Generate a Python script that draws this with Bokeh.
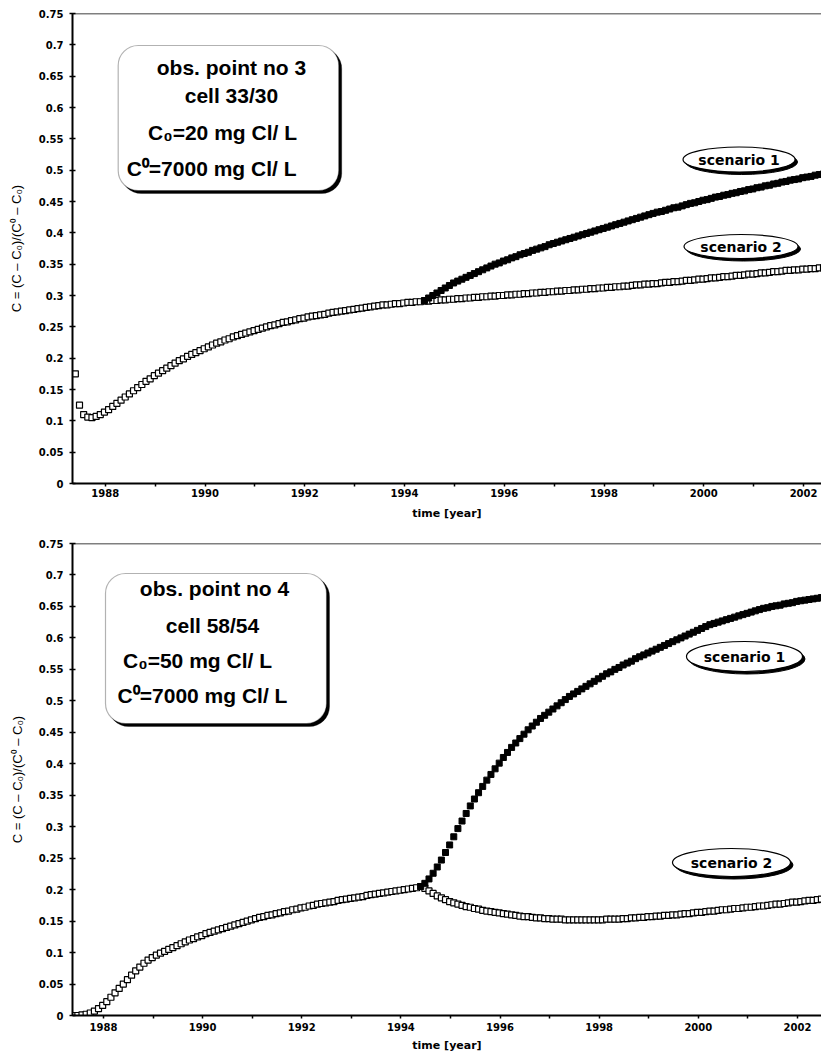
import numpy as np
from bokeh.plotting import figure
from bokeh.layouts import column
from bokeh.models import FixedTicker, NumeralTickFormatter, BoxAnnotation, Label, Span
from bokeh.embed import file_html
from bokeh.resources import INLINE

# ---------------- data ----------------
series_start = 1987.4      # first monthly value
split_start = 1994.4       # scenario 1 departs from scenario 2
month = 1.0 / 12.0

top_scenario2 = [
    0.175, 0.125, 0.110, 0.106, 0.105, 0.107, 0.110, 0.114, 0.118, 0.123, 0.128, 0.133,
    0.138, 0.143, 0.148, 0.153, 0.158, 0.163, 0.167, 0.172, 0.176, 0.180, 0.184, 0.188,
    0.192, 0.196, 0.199, 0.203, 0.206, 0.209, 0.212, 0.215, 0.218, 0.221, 0.224, 0.226,
    0.229, 0.231, 0.234, 0.236, 0.238, 0.240, 0.242, 0.244, 0.246, 0.248, 0.250, 0.252,
    0.253, 0.255, 0.257, 0.258, 0.260, 0.261, 0.263, 0.264, 0.266, 0.267, 0.268, 0.269,
    0.270, 0.272, 0.273, 0.274, 0.275, 0.276, 0.277, 0.278, 0.279, 0.280, 0.281, 0.282,
    0.283, 0.284, 0.285, 0.285, 0.286, 0.287, 0.287, 0.288, 0.289, 0.289, 0.290, 0.290,
    0.291, 0.291, 0.292, 0.292, 0.293, 0.293, 0.294, 0.294, 0.295, 0.295, 0.296, 0.296,
    0.297, 0.297, 0.298, 0.298, 0.299, 0.299, 0.300, 0.300, 0.301, 0.301, 0.302, 0.302,
    0.303, 0.303, 0.304, 0.304, 0.305, 0.305, 0.306, 0.306, 0.307, 0.307, 0.308, 0.308,
    0.309, 0.309, 0.310, 0.310, 0.311, 0.311, 0.312, 0.312, 0.313, 0.313, 0.314, 0.314,
    0.315, 0.315, 0.316, 0.317, 0.317, 0.318, 0.318, 0.319, 0.319, 0.320, 0.321, 0.321,
    0.322, 0.322, 0.323, 0.324, 0.324, 0.325, 0.326, 0.326, 0.327, 0.328, 0.328, 0.329,
    0.330, 0.330, 0.331, 0.332, 0.332, 0.333, 0.334, 0.334, 0.335, 0.336, 0.336, 0.337,
    0.338, 0.338, 0.339, 0.340, 0.340, 0.341, 0.341, 0.342, 0.342, 0.343, 0.343, 0.344,
    0.344, 0.345,
]

top_scenario1 = [
    0.292, 0.296, 0.300, 0.304, 0.308, 0.312, 0.316, 0.320, 0.323, 0.326, 0.329, 0.332,
    0.335, 0.338, 0.341, 0.344, 0.347, 0.350, 0.352, 0.355, 0.357, 0.360, 0.362, 0.365,
    0.367, 0.369, 0.372, 0.374, 0.376, 0.378, 0.381, 0.383, 0.385, 0.387, 0.389, 0.391,
    0.393, 0.395, 0.397, 0.399, 0.401, 0.403, 0.405, 0.407, 0.409, 0.411, 0.413, 0.415,
    0.417, 0.419, 0.421, 0.423, 0.425, 0.427, 0.429, 0.431, 0.433, 0.434, 0.436, 0.438,
    0.440, 0.441, 0.443, 0.445, 0.447, 0.448, 0.450, 0.452, 0.453, 0.455, 0.457, 0.458,
    0.460, 0.461, 0.463, 0.464, 0.466, 0.467, 0.469, 0.470, 0.472, 0.473, 0.475, 0.476,
    0.478, 0.479, 0.481, 0.482, 0.484, 0.485, 0.486, 0.488, 0.489, 0.490, 0.492, 0.493,
    0.494, 0.495,
]

bottom_scenario2 = [
    0.000, 0.000, 0.001, 0.002, 0.004, 0.007, 0.011, 0.016, 0.022, 0.029, 0.036, 0.043,
    0.050, 0.057, 0.064, 0.071, 0.077, 0.083, 0.088, 0.092, 0.096, 0.099, 0.102, 0.105,
    0.108, 0.111, 0.114, 0.117, 0.120, 0.122, 0.125, 0.127, 0.130, 0.132, 0.134, 0.136,
    0.138, 0.140, 0.142, 0.144, 0.146, 0.148, 0.150, 0.152, 0.154, 0.156, 0.157, 0.159,
    0.160, 0.162, 0.163, 0.165, 0.166, 0.168, 0.169, 0.171, 0.172, 0.174, 0.175, 0.177,
    0.178, 0.179, 0.180, 0.181, 0.183, 0.184, 0.185, 0.186, 0.187, 0.188, 0.189, 0.191,
    0.192, 0.193, 0.194, 0.195, 0.196, 0.197, 0.198, 0.199, 0.200, 0.201, 0.202, 0.203,
    0.205, 0.202, 0.198, 0.194, 0.190, 0.187, 0.184, 0.181, 0.179, 0.177, 0.175, 0.173,
    0.172, 0.170, 0.169, 0.167, 0.166, 0.165, 0.164, 0.163, 0.162, 0.161, 0.160, 0.159,
    0.158, 0.157, 0.157, 0.156, 0.155, 0.155, 0.154, 0.154, 0.153, 0.153, 0.153, 0.152,
    0.152, 0.152, 0.152, 0.152, 0.152, 0.152, 0.152, 0.152, 0.152, 0.153, 0.153, 0.153,
    0.153, 0.154, 0.154, 0.155, 0.155, 0.156, 0.156, 0.157, 0.157, 0.158, 0.158, 0.159,
    0.159, 0.160, 0.160, 0.161, 0.162, 0.162, 0.163, 0.164, 0.164, 0.165, 0.166, 0.166,
    0.167, 0.168, 0.168, 0.169, 0.170, 0.170, 0.171, 0.172, 0.172, 0.173, 0.174, 0.174,
    0.175, 0.176, 0.177, 0.177, 0.178, 0.179, 0.180, 0.180, 0.181, 0.182, 0.183, 0.183,
    0.184, 0.185,
]

bottom_scenario1 = [
    0.205, 0.210, 0.217, 0.226, 0.236, 0.247, 0.259, 0.271, 0.284, 0.297, 0.309, 0.321,
    0.333, 0.344, 0.354, 0.364, 0.374, 0.383, 0.392, 0.401, 0.410, 0.418, 0.426, 0.433,
    0.440, 0.447, 0.454, 0.460, 0.466, 0.472, 0.477, 0.482, 0.487, 0.492, 0.497, 0.502,
    0.507, 0.511, 0.515, 0.519, 0.523, 0.527, 0.531, 0.535, 0.539, 0.543, 0.546, 0.550,
    0.553, 0.557, 0.560, 0.563, 0.567, 0.570, 0.573, 0.576, 0.579, 0.582, 0.585, 0.588,
    0.591, 0.594, 0.597, 0.600, 0.603, 0.606, 0.609, 0.612, 0.615, 0.618, 0.621, 0.623,
    0.625, 0.627, 0.629, 0.631, 0.633, 0.635, 0.637, 0.639, 0.641, 0.643, 0.645, 0.647,
    0.648, 0.650, 0.651, 0.652, 0.654, 0.655, 0.656, 0.658, 0.659, 0.660, 0.661, 0.662,
    0.663, 0.664,
]

x_ticks = [1988, 1989, 1990, 1991, 1992, 1993, 1994, 1995, 1996, 1997, 1998, 1999, 2000, 2001, 2002]
x_tick_labels = ["1988", "", "1990", "", "1992", "", "1994", "", "1996", "", "1998", "", "2000", "", "2002"]
y_ticks = [0, 0.05, 0.1, 0.15, 0.2, 0.25, 0.3, 0.35, 0.4, 0.45, 0.5, 0.55, 0.6, 0.65, 0.7, 0.75]

y_title = "C = (C \u2013 C\u2080)/(C\u2070 \u2013 C\u2080)"
x_title = "time [year]"

top_box_lines = ["obs. point no 3", "cell 33/30", "C\u2080=20 mg Cl/ L", "C\u2070=7000 mg Cl/ L"]
bottom_box_lines = ["obs. point no 4", "cell 58/54", "C\u2080=50 mg Cl/ L", "C\u2070=7000 mg Cl/ L"]
scenario_labels = ["scenario 1", "scenario 2"]

# ---------------- layout (page pixels) ----------------
PANELS = [
    dict(s2=top_scenario2, s1=top_scenario1, lines=top_box_lines,
         width=821, height=528, mb_left=67, mb_top=13, mb_bottom=45,
         page_top=0, t0=1987.343, t1=2002.36,
         tick_standoff=2, title_standoff=7, ylab_standoff=12,
         box=(113, 335, 45, 190),
         line_pos=[(227, 67), (227, 95), (218, 132), (207, 168)],
         ell=[(738, 159, 112, 25), (740, 246, 114, 24)]),
    dict(s2=bottom_scenario2, s1=bottom_scenario1, lines=bottom_box_lines,
         width=821, height=528, mb_left=72, mb_top=15, mb_bottom=41,
         page_top=528, t0=1987.375, t1=2002.485,
         tick_standoff=4, title_standoff=5, ylab_standoff=11,
         box=(105, 326, 573, 723),
         line_pos=[(214, 588), (212, 625), (197, 660), (202, 695)],
         ell=[(744, 656, 116, 30), (731, 862, 118, 28)]),
]
Y_MAX = 0.75


def build(cfg):
    frame_w = cfg["width"] - cfg["mb_left"]
    frame_h = cfg["height"] - cfg["mb_top"] - cfg["mb_bottom"]
    ppx = frame_w / (cfg["t1"] - cfg["t0"])
    ppy = frame_h / Y_MAX
    frame_left = cfg["mb_left"]
    frame_top = cfg["page_top"] + cfg["mb_top"]

    def to_data(xp, yp):
        return (cfg["t0"] + (xp - frame_left) / ppx,
                Y_MAX - (yp - frame_top) / ppy)

    p = figure(width=cfg["width"], height=cfg["height"],
               x_range=(cfg["t0"], cfg["t1"]), y_range=(0, Y_MAX),
               output_backend="svg", toolbar_location=None,
               min_border_left=cfg["mb_left"], min_border_right=0,
               min_border_top=cfg["mb_top"], min_border_bottom=cfg["mb_bottom"],
               outline_line_color=None, background_fill_color="white",
               border_fill_color="white")
    p.xgrid.visible = False
    p.ygrid.visible = False

    # x axis
    xa = p.xaxis[0]
    xa.ticker = FixedTicker(ticks=x_ticks)
    xa.major_label_overrides = {t: l for t, l in zip(x_ticks, x_tick_labels)}
    xa.axis_line_width = 2
    xa.axis_line_color = "black"
    xa.major_tick_in = 0
    xa.major_tick_out = 3
    xa.major_tick_line_width = 1.5
    xa.minor_tick_line_color = None
    xa.major_label_text_font = "DejaVu Sans"
    xa.major_label_text_font_style = "bold"
    xa.major_label_text_font_size = "10px"
    xa.major_label_text_color = "black"
    xa.major_label_standoff = cfg["tick_standoff"]
    xa.axis_label = x_title
    xa.axis_label_text_font = "DejaVu Sans"
    xa.axis_label_text_font_style = "bold"
    xa.axis_label_text_font_size = "11px"
    xa.axis_label_text_color = "black"
    xa.axis_label_standoff = cfg["title_standoff"]

    # y axis
    ya = p.yaxis[0]
    ya.ticker = FixedTicker(ticks=y_ticks)
    ya.formatter = NumeralTickFormatter(format="0.[00]")
    ya.axis_line_width = 2
    ya.axis_line_color = "black"
    ya.major_tick_in = 3
    ya.major_tick_out = 3
    ya.major_tick_line_width = 1.5
    ya.minor_tick_line_color = None
    ya.major_label_text_font = "DejaVu Sans"
    ya.major_label_text_font_style = "bold"
    ya.major_label_text_font_size = "10px"
    ya.major_label_text_color = "black"
    ya.major_label_standoff = 6
    ya.axis_label = y_title
    ya.axis_label_text_font = "Liberation Sans"
    ya.axis_label_text_font_style = "normal"
    ya.axis_label_text_font_size = "13px"
    ya.axis_label_text_color = "black"
    ya.axis_label_standoff = cfg["ylab_standoff"]

    # top border line of the frame
    p.add_layout(Span(location=Y_MAX, dimension="width", line_color="black", line_width=1.5))

    # data
    t2 = series_start + np.arange(len(cfg["s2"])) * month
    t1 = split_start + np.arange(len(cfg["s1"])) * month
    p.scatter(t2, cfg["s2"], marker="square", size=6, fill_color="white",
              line_color="black", line_width=1.2)
    p.scatter(t1, cfg["s1"], marker="square", size=6, fill_color="black",
              line_color="black", line_width=1.0)

    # rounded annotation box with shadow
    l, r, tp, bt = cfg["box"]
    sh = 3
    L0, T0 = to_data(l + sh, tp + sh)
    R0, B0 = to_data(r + sh, bt + sh)
    p.add_layout(BoxAnnotation(left=L0, right=R0, top=T0, bottom=B0,
                               fill_color="black", fill_alpha=1.0, line_color="black",
                               border_radius=20))
    L1, T1 = to_data(l, tp)
    R1, B1 = to_data(r, bt)
    p.add_layout(BoxAnnotation(left=L1, right=R1, top=T1, bottom=B1,
                               fill_color="white", fill_alpha=1.0, line_color="black",
                               line_width=1.2, border_radius=20))
    for txt, (xp, yp) in zip(cfg["lines"], cfg["line_pos"]):
        x, y = to_data(xp, yp)
        p.add_layout(Label(x=x, y=y, text=txt, text_align="center", text_baseline="middle",
                           text_font="Liberation Sans", text_font_style="bold",
                           text_font_size="21px", text_color="black"))

    # scenario ellipses
    for txt, (xp, yp, w, h) in zip(scenario_labels, cfg["ell"]):
        xs, ys = to_data(xp + 2.5, yp + 2.5)
        p.ellipse(x=[xs], y=[ys], width=w, height=h, width_units="screen",
                  height_units="screen", fill_color="black", line_color="black")
        x, y = to_data(xp, yp)
        p.ellipse(x=[x], y=[y], width=w, height=h, width_units="screen",
                  height_units="screen", fill_color="white", line_color="black",
                  line_width=1.2)
        p.add_layout(Label(x=x, y=y, text=txt, text_align="center", text_baseline="middle",
                           text_font="DejaVu Sans", text_font_style="bold",
                           text_font_size="14px", text_color="black"))
    return p


figs = [build(c) for c in PANELS]
layout = column(*figs, spacing=0)
open("out.html", "w").write(file_html(layout, INLINE))
